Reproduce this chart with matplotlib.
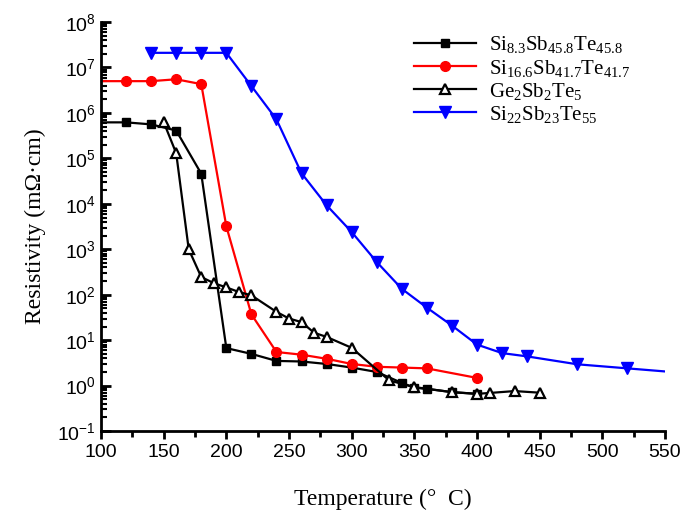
import numpy as np
import matplotlib.pyplot as plt
from matplotlib.ticker import LogLocator, MultipleLocator

plt.rcParams['mathtext.fontset'] = 'custom'
plt.rcParams['mathtext.rm'] = 'Liberation Serif'
plt.rcParams['mathtext.it'] = 'Liberation Serif:italic'
plt.rcParams['axes.unicode_minus'] = False

# Si8.3Sb45.8Te45.8 (squares)
t_sq = [100, 120, 140, 160, 180, 200, 220, 240, 260, 280, 300, 320, 340, 350, 360, 380, 400]
r_sq = [6.2e5, 6.2e5, 5.6e5, 4.1e5, 4.6e4, 6.7, 5.0, 3.5, 3.4, 3.0, 2.5, 2.0, 1.15, 0.9, 0.85, 0.72, 0.66]

# Si16.6Sb41.7Te41.7 (circles)
t_ci = [100, 120, 140, 160, 180, 200, 220, 240, 260, 280, 300, 320, 340, 360, 400]
r_ci = [5.0e6, 5.0e6, 5.0e6, 5.5e6, 4.3e6, 3.2e3, 37, 5.5, 4.8, 3.9, 3.0, 2.6, 2.5, 2.4, 1.48]

# Ge2Sb2Te5 (open triangles)
t_tr = [150, 160, 170, 180, 190, 200, 210, 220, 240, 250, 260, 270, 280, 300, 330, 350, 380, 400, 410, 430, 450]
r_tr = [6.3e5, 1.3e5, 1.0e3, 245, 180, 145, 115, 97, 42, 30, 25, 14.6, 11.8, 6.8, 1.3, 0.93, 0.72, 0.66, 0.69, 0.76, 0.7]

# Si22Sb23Te55 (down triangles)
t_dt = [140, 160, 180, 200, 220, 240, 260, 280, 300, 320, 340, 360, 380, 400, 420, 440, 480, 520, 560]
r_dt = [2.1e7, 2.1e7, 2.1e7, 2.1e7, 3.9e6, 7.2e5, 4.7e4, 9.3e3, 2.4e3, 525, 135, 52, 21, 8.0, 5.2, 4.4, 2.95, 2.4, 1.95]

fig = plt.figure(figsize=(6.87, 5.12), dpi=100)
ax = fig.add_axes([0.147, 0.158, 0.821, 0.799])

lw = 1.6
ax.plot(t_sq, r_sq, color='black', lw=lw, marker='s', ms=6, markevery=slice(1, None),
        label=r'Si$_{\mathrm{8.3}}$Sb$_{\mathrm{45.8}}$Te$_{\mathrm{45.8}}$')
ax.plot(t_ci, r_ci, color='red', lw=lw, marker='o', ms=7, markevery=slice(1, None),
        label=r'Si$_{\mathrm{16.6}}$Sb$_{\mathrm{41.7}}$Te$_{\mathrm{41.7}}$')
ax.plot(t_tr, r_tr, color='black', lw=lw, marker='^', ms=7, mfc='white', mew=1.6,
        label=r'Ge$_{\mathrm{2}}$Sb$_{\mathrm{2}}$Te$_{\mathrm{5}}$')
ax.plot(t_dt, r_dt, color='blue', lw=lw, marker='v', ms=8,
        label=r'Si$_{\mathrm{22}}$Sb$_{\mathrm{23}}$Te$_{\mathrm{55}}$')

ax.set_yscale('log')
ax.set_xlim(100, 550)
ax.set_ylim(1e-1, 1e8)

ax.xaxis.set_major_locator(MultipleLocator(50))
ax.xaxis.set_minor_locator(MultipleLocator(25))
ax.yaxis.set_major_locator(LogLocator(base=10, numticks=20))
ax.yaxis.set_minor_locator(LogLocator(base=10, subs=np.arange(2, 10), numticks=20))

for s in ['top', 'right']:
    ax.spines[s].set_visible(False)
for s in ['left', 'bottom']:
    ax.spines[s].set_linewidth(2)

ax.tick_params(axis='x', which='major', direction='out', length=6, width=2)
ax.tick_params(axis='x', which='minor', direction='out', length=4, width=2)
ax.tick_params(axis='y', which='major', direction='in', length=7, width=2)
ax.tick_params(axis='y', which='minor', direction='in', length=4, width=1.5)

for lab in ax.get_xticklabels() + ax.get_yticklabels():
    lab.set_fontfamily('Liberation Sans')
    lab.set_fontsize(14)

ax.set_xlabel('Temperature (°  C)', family='Liberation Serif', fontsize=17, labelpad=20)
ax.set_ylabel('Resistivity (mΩ·cm)', family='Liberation Serif', fontsize=17, labelpad=8)

ax.legend(loc='upper left', bbox_to_anchor=(0.54, 0.99), frameon=False,
          prop={'family': 'Liberation Serif', 'size': 15}, handlelength=3.0,
          handletextpad=0.6, labelspacing=0.1, borderaxespad=0)

fig.savefig('out.png', dpi=100)
